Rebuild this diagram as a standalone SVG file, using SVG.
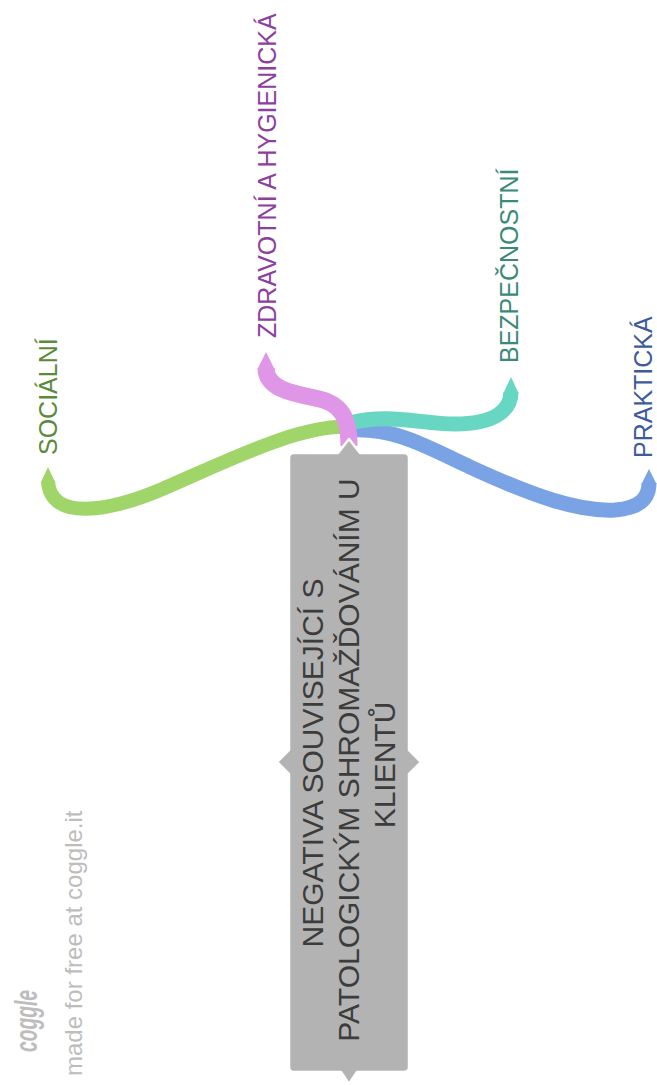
<svg xmlns="http://www.w3.org/2000/svg" width="657" height="1085" viewBox="0 0 657 1085">
<style>
.br{fill:none;stroke-linecap:butt;stroke-linejoin:round}
.lbl{font-family:"Liberation Sans",Arial,sans-serif;font-size:25px}
.ctr{font-family:"Liberation Sans",Arial,sans-serif;font-size:30px;fill:#3c3c3c;text-anchor:middle}
.wm{font-family:"Liberation Sans",Arial,sans-serif;fill:#bdbdbd}
</style>
<rect width="657" height="1085" fill="#ffffff"/>
<g id="connectors">
  <path class="br" d="M350,427 C300,424 230,460 160,490 C110,511 50,522 48,481" stroke="#a0d569" stroke-width="14"/>
  <polygon points="41,482 48,467 55,482" fill="#a0d569"/>
  <path class="br" d="M352,430 C395,428 425,446 470,467 C535,497 580,512 615,510 C640,508 649,498 649,483" stroke="#7aa3e5" stroke-width="15"/>
  <polygon points="641.5,484 649,469 656.5,484" fill="#7aa3e5"/>
  <path class="br" d="M350,423 C390,413 420,424 455,424 C495,424 511,410 511,392" stroke="#67d6c2" stroke-width="15"/>
  <polygon points="503.5,393 511,377 518.5,393" fill="#67d6c2"/>
  <path class="br" d="M349,446 C349,418 342,403 315,398 C290,393 266,388 266,368" stroke="#e096e6" stroke-width="17"/>
  <polygon points="257.5,369 266,352 274.5,369" fill="#e096e6"/>
</g>
<g id="root">
  <path d="M294,453 L338,453 L349,439 L360,453 L404,453 Q409,453 409,458 L409,750 L421,762 L409,774 L409,1067 Q409,1072 404,1072 L357,1072 L349,1084 L341,1072 L294,1072 Q289,1072 289,1067 L289,774 L277,762 L289,750 L289,458 Q289,453 294,453 Z" fill="#b3b3b3" stroke="#ffffff" stroke-width="2.5" stroke-linejoin="round"/>
  <text class="ctr" transform="translate(323,763) rotate(-90)">NEGATIVA SOUVISEJÍCÍ S</text>
  <text class="ctr" transform="translate(359,760) rotate(-90)">PATOLOGICKÝM SHROMAŽĎOVÁNÍM U</text>
  <text class="ctr" transform="translate(395,765) rotate(-90)">KLIENTŮ</text>
</g>
<g id="node-socialni">
  <text class="lbl" fill="#5b8b3a" transform="translate(57,455) rotate(-90)">SOCIÁLNÍ</text>
</g>
<g id="node-zdravotni">
  <text class="lbl" fill="#8d3f9e" transform="translate(276,338) rotate(-90)">ZDRAVOTNÍ A HYGIENICKÁ</text>
</g>
<g id="node-bezpecnostni">
  <text class="lbl" fill="#3b8a78" transform="translate(518,363) rotate(-90)">BEZPEČNOSTNÍ</text>
</g>
<g id="node-prakticka">
  <text class="lbl" fill="#3d5c9a" transform="translate(652,458) rotate(-90)">PRAKTICKÁ</text>
</g>
<g id="watermark">
  <text class="wm" font-size="31" font-style="italic" font-weight="bold" font-family="'DejaVu Serif',serif" textLength="62" lengthAdjust="spacingAndGlyphs" transform="translate(37,1052) rotate(-90)">coggle</text>
  <text class="wm" font-size="24" transform="translate(82,1076) rotate(-90)">made for free at coggle.it</text>
</g>
</svg>
